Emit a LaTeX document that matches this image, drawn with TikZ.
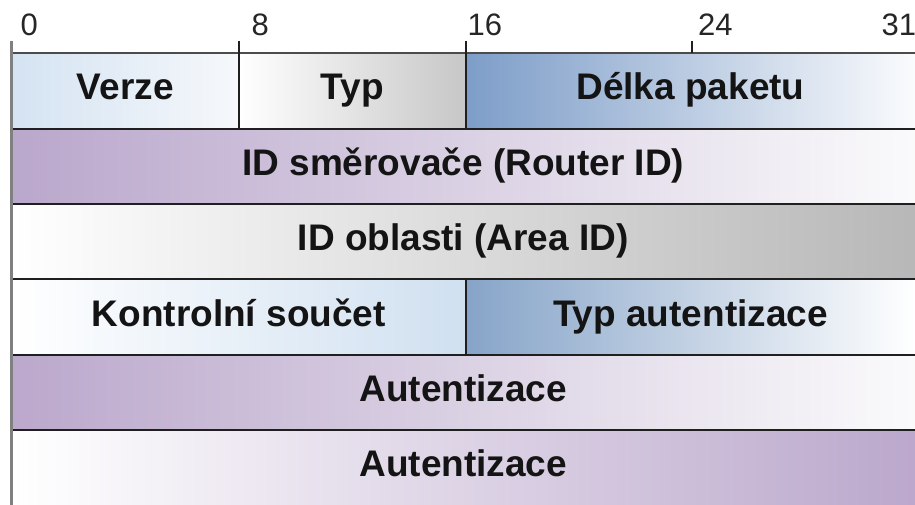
\documentclass[tikz,border=0pt]{standalone}
\usepackage{fontspec}
\setmainfont{Liberation Sans}
\begin{document}
\begin{tikzpicture}[x=1pt,y=-1pt,
  field/.style={anchor=north west, inner sep=0pt, outer sep=0pt,
    text height=27pt, text depth=9pt, text=black!92,
    font=\fontsize{37}{42}\selectfont\bfseries},
  bitno/.style={anchor=base west, inner sep=0pt, text=black!85,
    font=\fontsize{31}{34}\selectfont},
  rule/.style={line width=1.8pt, draw=black!88},
  border/.style={line width=2.6pt, draw=black!50},
]
\useasboundingbox (0,0) rectangle (915,505);
\fill[white] (0,0) rectangle (915,505);

% bit numbers
\node[bitno] (b0)  at (20.5,36)  {0};
\node[bitno] (b8)  at (251.5,36) {8};
\node[bitno] (b16) at (467.5,36) {16};
\node[bitno] (b24) at (698,36) {24};
\node[bitno] (b31) at (881.5,36) {31};

% row 1
\node[field, minimum width=227.5pt, minimum height=76pt,
  left color={rgb,255:red,212;green,227;blue,242}, right color={rgb,255:red,246;green,248;blue,251}] (verze) at (11.5,53) {Verze};
\node[field, minimum width=227pt, minimum height=76pt,
  left color=white, right color=black!22] (typ) at (239,53) {Typ};
\node[field, minimum width=449pt, minimum height=76pt,
  left color={rgb,255:red,125;green,157;blue,200}, right color={rgb,255:red,250;green,251;blue,253}] (delka) at (466,53) {Délka paketu};
% row 2
\node[field, minimum width=903.5pt, minimum height=75pt,
  left color={rgb,255:red,186;green,167;blue,204}, right color={rgb,255:red,250;green,250;blue,251}] (router) at (11.5,129) {ID směrovače (Router ID)};
% row 3
\node[field, minimum width=903.5pt, minimum height=75pt,
  left color=white, right color=black!28] (area) at (11.5,204) {ID oblasti (Area ID)};
% row 4
\node[field, minimum width=454.5pt, minimum height=76pt,
  left color=white, right color={rgb,255:red,208;green,224;blue,240}] (checksum) at (11.5,279) {Kontrolní součet};
\node[field, minimum width=449pt, minimum height=76pt,
  left color={rgb,255:red,134;green,164;blue,200}, right color=white] (authtype) at (466,279) {Typ autentizace};
% row 5
\node[field, minimum width=903.5pt, minimum height=75pt,
  left color={rgb,255:red,187;green,168;blue,204}, right color={rgb,255:red,250;green,250;blue,251}] (auth1) at (11.5,355) {Autentizace};
% row 6
\node[field, minimum width=903.5pt, minimum height=75pt,
  left color=white, right color={rgb,255:red,187;green,168;blue,204}] (auth2) at (11.5,430) {Autentizace};

% horizontal rules between rows
\draw[rule, draw=black!70] (verze.north west) -- (delka.north east);
\draw[rule] (router.north west) -- (router.north east);
\draw[rule] (area.north west) -- (area.north east);
\draw[rule] (checksum.north west) -- (authtype.north east);
\draw[rule] (auth1.north west) -- (auth1.north east);
\draw[rule] (auth2.north west) -- (auth2.north east);

% field dividers and bit ticks
\coordinate (t8)  at (239,41);
\coordinate (t16) at (466,41);
\coordinate (t24) at (692,41);
\coordinate (t24b) at (692,53);
\draw[rule, line width=1.5pt] (t8) -- (typ.south west);
\draw[rule, line width=1.5pt] (t16) -- (delka.south west);
\draw[rule, line width=1.3pt] (t24) -- (t24b);
\draw[rule, line width=1.5pt] (authtype.north west) -- (authtype.south west);

% left edge
\coordinate (t0) at (11.5,41);
\draw[border] (t0) -- (auth2.south west);
\end{tikzpicture}
\end{document}
